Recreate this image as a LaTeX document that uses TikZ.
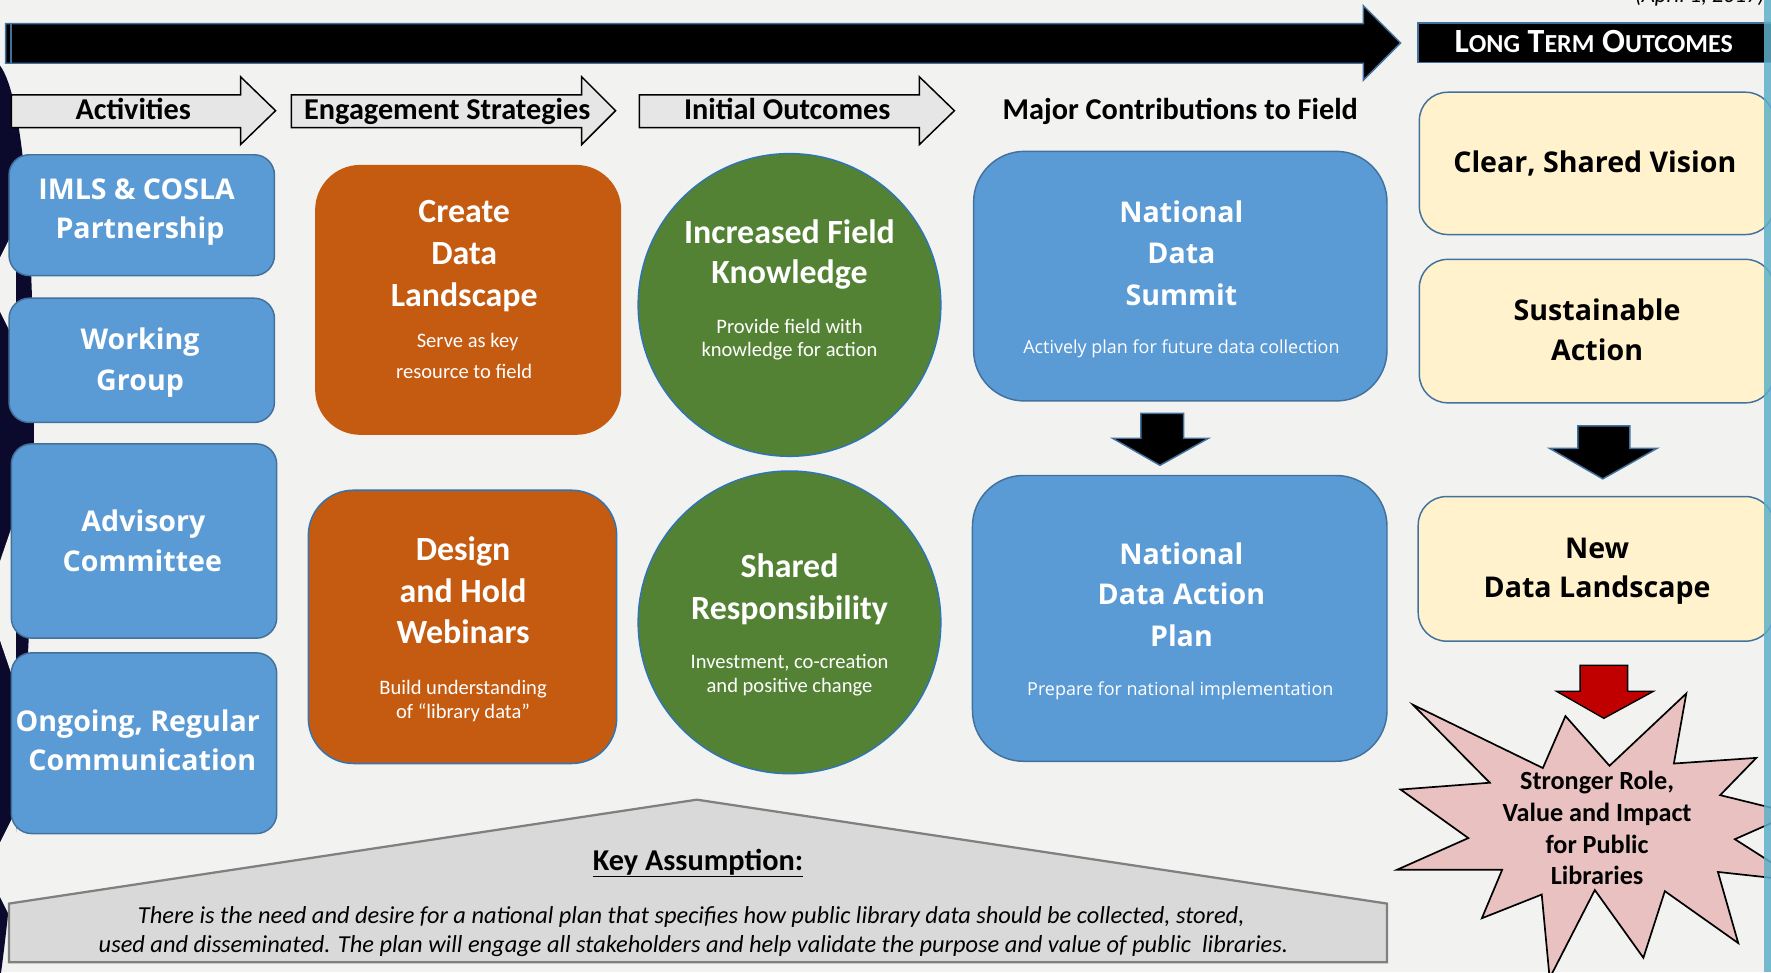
\documentclass[tikz,border=0pt]{standalone}
\usepackage{fontspec}
\setmainfont{Carlito}
\newfontfamily\osans{Open Sans}
\usetikzlibrary{shapes.geometric}
\definecolor{bg}{HTML}{F2F2F0}
\definecolor{navy}{HTML}{0B0A2C}
\definecolor{bord}{HTML}{41719C}
\definecolor{boxblue}{HTML}{5B9BD5}
\definecolor{orng}{HTML}{C55A11}
\definecolor{grn}{HTML}{548235}
\definecolor{cblue}{HTML}{2E75B6}
\definecolor{cream}{HTML}{FFF2CC}
\definecolor{hdrgray}{HTML}{E6E6E6}
\definecolor{keygray}{HTML}{D9D9D9}
\definecolor{keyline}{HTML}{808080}
\definecolor{starpink}{HTML}{E8C1C0}
\definecolor{redarrow}{HTML}{C00000}
\definecolor{teal}{HTML}{5FB0C7}
\begin{document}
\begin{tikzpicture}[x=1pt,y=-1pt,
  wt/.style={anchor=mid, inner sep=0pt, text=white},
  bt/.style={anchor=mid, inner sep=0pt, text=black},
  tHead/.style={font=\fontsize{26.8}{30}\selectfont\bfseries, yshift=-6pt},
  tAct/.style={font=\osans\fontsize{25.3}{29}\selectfont\bfseries, yshift=-7pt},
  tTitle/.style={font=\fontsize{30}{34}\selectfont\bfseries, yshift=-7pt},
  tSub/.style={font=\fontsize{18.2}{21}\selectfont, yshift=-4.5pt},
  tNsub/.style={font=\osans\fontsize{15.9}{19}\selectfont, yshift=-4pt},
  tStar/.style={font=\fontsize{23.2}{26}\selectfont\bfseries, yshift=-5pt},
  tKey/.style={font=\fontsize{21.6}{25}\selectfont\itshape, yshift=-5pt},
  actbox/.style={draw=bord, fill=boxblue, rounded corners=18pt, line width=1.3pt, inner sep=0pt},
  orbox/.style={fill=orng, rounded corners=40pt, inner sep=0pt},
  bigbox/.style={draw=bord, fill=boxblue, rounded corners=45pt, line width=1.3pt, inner sep=0pt},
  crbox/.style={draw=bord, fill=cream, rounded corners=25pt, line width=1.3pt, inner sep=0pt},
  grcirc/.style={circle, fill=grn, draw=cblue, line width=1.3pt, minimum size=268pt, inner sep=0pt},
  hdr/.style={fill=hdrgray, draw=black, line width=1.3pt},
  blockarrow/.style={draw=bord, line width=1.3pt}
]
\useasboundingbox (0,0) rectangle (1568,861);
\clip (0,0) rectangle (1568,861);
\fill[bg] (0,0) rectangle (1568,861);

% dark decorative shape at left edge
\fill[navy] (0,58) .. controls (20,85) and (30,200) .. (30,380) .. controls (30,560) and (15,760) .. (0,868) -- cycle;
\fill[bg] (-12,252) -- (14,200) -- (14,304) -- cycle;
\fill[bg] (-12,532) -- (14,456) -- (14,608) -- cycle;
\fill[bg] (-12,770) -- (14,718) -- (14,822) -- cycle;

% date (cut at top edge, as in the reference)
\node[bt, font=\fontsize{20}{24}\selectfont\itshape] (date) at (1505,0) {(April 1, 2017)};

% top timeline arrow
\filldraw[fill=black, draw=bord, line width=1.3pt] (5,21) -- (1207,21) -- (1207,5) -- (1240,38) -- (1207,71) -- (1207,56) -- (5,56) -- cycle;
\draw[bord, line width=1.5pt] (10,21) -- (10,56);

% long term outcomes banner
\node[fill=black, draw=bord, line width=1.3pt, minimum width=320pt, minimum height=35pt, inner sep=0pt, anchor=west] (ltobox) at (1255,38) {};
\node[wt, font=\fontsize{30}{30}\selectfont\bfseries, yshift=-6pt] (lto) at (1411,38) {L{\fontsize{23}{23}\selectfont ONG} T{\fontsize{23}{23}\selectfont ERM} O{\fontsize{23}{23}\selectfont UTCOMES}};

% section header arrows
\draw[hdr] (10,84) -- (213,84) -- (213,68) -- (244,98) -- (213,128) -- (213,113) -- (10,113) -- cycle;
\draw[hdr] (258,84) -- (515,84) -- (515,68) -- (545,98) -- (515,128) -- (515,113) -- (258,113) -- cycle;
\draw[hdr] (566,84) -- (814,84) -- (814,68) -- (845,98) -- (814,128) -- (814,113) -- (566,113) -- cycle;
\node[bt, tHead] (hA) at (118,97) {Activities};
\node[bt, tHead] (hE) at (396,97) {Engagement Strategies};
\node[bt, tHead] (hI) at (697,97) {Initial Outcomes};
\node[bt, tHead] (hM) at (1045,97) {Major Contributions to Field};

% activities
\node[actbox, minimum width=235pt, minimum height=107pt] (b1) at (125.5,190.5) {};
\node[wt, tAct] (b1a) at (121,167) {IMLS \& COSLA};
\node[wt, tAct] (b1b) at (124,202) {Partnership};
\node[actbox, minimum width=235pt, minimum height=110pt] (b2) at (125.5,319) {};
\node[wt, tAct] (b2a) at (124,300) {Working};
\node[wt, tAct] (b2b) at (124,336) {Group};
\node[actbox, minimum width=235pt, minimum height=172pt] (b3) at (127.5,479) {};
\node[wt, tAct] (b3a) at (127,461) {Advisory};
\node[wt, tAct] (b3b) at (126,497) {Committee};
\node[actbox, minimum width=235pt, minimum height=160pt] (b4) at (127.5,658) {};
\node[wt, tAct] (b4a) at (122,638) {Ongoing, Regular};
\node[wt, tAct] (b4b) at (126,673) {Communication};

% engagement strategies
\node[orbox, minimum width=271pt, minimum height=239pt] (o1) at (414.5,265.5) {};
\node[wt, tTitle] (o1a) at (411,188) {Create};
\node[wt, tTitle] (o1b) at (411,225) {Data};
\node[wt, tTitle] (o1c) at (411,262) {Landscape};
\node[wt, tSub] (o1d) at (414,301) {Serve as key};
\node[wt, tSub] (o1e) at (411,328) {resource to field};
\node[orbox, draw=cblue, line width=1.3pt, minimum width=273pt, minimum height=242pt] (o2) at (409.5,555) {};
\node[wt, tTitle] (o2a) at (410,487) {Design};
\node[wt, tTitle] (o2b) at (410,524) {and Hold};
\node[wt, tTitle] (o2c) at (410,560) {Webinars};
\node[wt, tSub] (o2d) at (410,608) {Build understanding};
\node[wt, tSub] (o2e) at (410,629) {of “library data”};

% initial outcomes
\node[grcirc] (g1) at (699,270) {};
\node[wt, tTitle] (g1a) at (699,206) {Increased Field};
\node[wt, tTitle] (g1b) at (699,242) {Knowledge};
\node[wt, tSub] (g1c) at (699,288) {Provide field with};
\node[wt, tSub] (g1d) at (699,309) {knowledge for action};
\node[grcirc] (g2) at (699,551) {};
\node[wt, tTitle] (g2a) at (699,502) {Shared};
\node[wt, tTitle] (g2b) at (699,539) {Responsibility};
\node[wt, tSub] (g2c) at (699,585) {Investment, co-creation};
\node[wt, tSub] (g2d) at (699,606) {and positive change};

% major contributions
\node[bigbox, minimum width=366pt, minimum height=221pt] (n1) at (1045,244.5) {};
\node[wt, tAct] (n1a) at (1046,188) {National};
\node[wt, tAct] (n1b) at (1046,224) {Data};
\node[wt, tAct] (n1c) at (1046,261) {Summit};
\node[wt, tNsub] (n1d) at (1046,307) {Actively plan for future data collection};
\node[bigbox, minimum width=367pt, minimum height=253pt] (n2) at (1044.5,547.5) {};
\node[wt, tAct] (n2a) at (1046,490) {National};
\node[wt, tAct] (n2b) at (1046,526) {Data Action};
\node[wt, tAct] (n2c) at (1046,563) {Plan};
\node[wt, tNsub] (n2d) at (1045,609) {Prepare for national implementation};
\filldraw[blockarrow, fill=black] (1010,366) -- (1048,366) -- (1048,388) -- (1070,388) -- (1027,412) -- (985,388) -- (1010,388) -- cycle;

% long term outcomes
\node[crbox, minimum width=314pt, minimum height=126pt, anchor=north west] (c1) at (1256,81) {};
\node[bt, tAct] (c1a) at (1412,143) {Clear, Shared Vision};
\node[crbox, minimum width=314pt, minimum height=127pt, anchor=north west] (c2) at (1256,229) {};
\node[bt, tAct] (c2a) at (1414,274) {Sustainable};
\node[bt, tAct] (c2b) at (1414,310) {Action};
\node[crbox, minimum width=315pt, minimum height=128pt, anchor=north west] (c3) at (1255,439) {};
\node[bt, tAct] (c3a) at (1414,485) {New};
\node[bt, tAct] (c3b) at (1414,520) {Data Landscape};
\filldraw[blockarrow, fill=black] (1397,377) -- (1443,377) -- (1443,397) -- (1467,397) -- (1419,424) -- (1372,397) -- (1397,397) -- cycle;
\filldraw[draw=black, line width=1.2pt, fill=redarrow] (1399,589) -- (1441,589) -- (1441,612) -- (1464,612) -- (1420,636) -- (1378,612) -- (1399,612) -- cycle;

% starburst
\filldraw[fill=starpink, draw=black, line width=1.5pt]
  (1251,624) -- (1366,680) -- (1386,634) -- (1425,678) -- (1493,614) -- (1482,676)
  -- (1555,671) -- (1523,704) -- (1588,720) -- (1536,743) -- (1594,780) -- (1521,772)
  -- (1539,835) -- (1474,789) -- (1455,848) -- (1412,788) -- (1372,866) -- (1365,792)
  -- (1312,813) -- (1330,770) -- (1237,770) -- (1300,742) -- (1240,699) -- (1319,693) -- cycle;
\node[bt, tStar] (s1) at (1414,692) {Stronger Role,};
\node[bt, tStar] (s2) at (1414,720) {Value and Impact};
\node[bt, tStar] (s3) at (1414,748) {for Public};
\node[bt, tStar] (s4) at (1414,776) {Libraries};

% key assumption
\filldraw[fill=keygray, draw=keyline, line width=2pt] (8,852) -- (8,800) -- (617,708) -- (1228,800) -- (1228,852) -- cycle;
\node[bt, tHead] (ka) at (618,762) {\underline{Key Assumption:}};
\node[bt, tKey] (kb) at (612,810) {There is the need and desire for a national plan that specifies how public library data should be collected, stored,};
\node[bt, tKey] (kc) at (614,836) {used and disseminated. The plan will engage all stakeholders and help validate the purpose and value of public~ libraries.};

% teal edge bar
\fill[teal, opacity=0.85] (1562,0) rectangle (1568,861);
\end{tikzpicture}
\end{document}
